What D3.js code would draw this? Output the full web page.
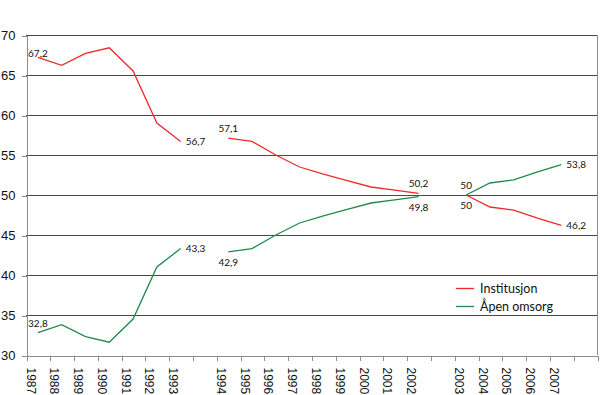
<!DOCTYPE html>
<html>
<head>
<meta charset="utf-8">
<script src="https://cdn.jsdelivr.net/npm/d3@7"></script>
<style>
    body { margin: 0; background: #fff; }
    svg { display: block; font-family: Lato, "Open Sans", sans-serif; }
    .grid line { stroke: #4a4a4a; shape-rendering: crispEdges; }
    .axis path, .axis line { stroke: #8c8c8c; shape-rendering: crispEdges; }
    .axis text { fill: #111; }
    .label { font-size: 10px; fill: #111; }
    .legend text { font-size: 12.5px; fill: #111; }
</style>
</head>
<body>
<div id="chart"></div>
<script>
// category slots along the x axis, "" = empty slot between periods
let categories = ["1987", "1988", "1989", "1990", "1991", "1992", "1993", "",
    "1994", "1995", "1996", "1997", "1998", "1999", "2000", "2001", "2002", "",
    "2003", "2004", "2005", "2006", "2007", ""];

let institusjon = [67.2, 66.2, 67.7, 68.4, 65.5, 59.0, 56.7, null,
    57.1, 56.7, 55.0, 53.5, 52.6, 51.8, 51.0, 50.6, 50.2, null,
    50.0, 48.5, 48.1, 47.1, 46.2, null];

let apenOmsorg = [32.8, 33.8, 32.3, 31.6, 34.5, 41.0, 43.3, null,
    42.9, 43.3, 45.0, 46.5, 47.4, 48.2, 49.0, 49.4, 49.8, null,
    50.0, 51.5, 51.9, 52.9, 53.8, null];

let seriesNames = ["Institusjon", "Åpen omsorg"];
let yTicks = [30, 35, 40, 45, 50, 55, 60, 65, 70];

// which points carry a value label, and where
let labelsInstitusjon = [[0, "center"], [6, "right"], [8, "above"], [16, "above"], [18, "below"], [22, "right"]];
let labelsApen = [[0, "above"], [6, "right"], [8, "below"], [16, "below"], [18, "above"], [22, "right"]];

const width = 600, height = 395;
const plot = { left: 26, right: 597, top: 35, bottom: 355 };
const colors = ["#ee2a2a", "#1e8a4b"];

const svg = d3.select("#chart").append("svg")
    .attr("width", width)
    .attr("height", height);

const x = d3.scaleLinear().domain([0, categories.length]).range([plot.left, plot.right]);
const y = d3.scaleLinear().domain([30, 70]).range([plot.bottom, plot.top]);

// gridlines
svg.append("g").attr("class", "grid")
    .selectAll("line")
    .data(yTicks.slice(1))
    .enter().append("line")
    .attr("x1", plot.left).attr("x2", plot.right)
    .attr("y1", d => Math.round(y(d)) + 0.5)
    .attr("y2", d => Math.round(y(d)) + 0.5);

// right border
svg.append("line")
    .attr("x1", plot.right + 0.5).attr("x2", plot.right + 0.5)
    .attr("y1", plot.top).attr("y2", plot.bottom)
    .attr("stroke", "#8c8c8c");

// y axis
let yAxis = svg.append("g").attr("class", "axis")
    .attr("transform", `translate(${plot.left + 0.5},0.5)`)
    .call(d3.axisLeft(y).tickValues(yTicks).tickSize(5).tickSizeOuter(0).tickPadding(6));
yAxis.selectAll("text").style("font-size", "13px").attr("x", -11);

// x axis, ticks on slot boundaries
let xAxis = svg.append("g").attr("class", "axis")
    .attr("transform", `translate(0.5,${plot.bottom + 0.5})`)
    .call(d3.axisBottom(x).tickValues(d3.range(categories.length + 1)).tickSize(5).tickSizeOuter(0)
        .tickFormat(i => categories[i] || ""));
xAxis.selectAll("text")
    .style("font-size", "12px")
    .attr("text-anchor", "start")
    .attr("transform", "translate(-0.5,12) rotate(90)")
    .attr("x", 0).attr("y", 0).attr("dy", 0);

// lines
const line = d3.line()
    .defined(d => d != null)
    .x((d, i) => x(i + 0.5))
    .y(d => y(d));

[institusjon, apenOmsorg].forEach((values, s) => {
    svg.append("path")
        .datum(values)
        .attr("fill", "none")
        .attr("stroke", colors[s])
        .attr("stroke-width", 1.3)
        .attr("d", line);
});

// value labels
const fmt = v => String(v).replace(".", ",");
const place = {
    above: { dx: 0, dy: -6, anchor: "middle" },
    below: { dx: 0, dy: 14, anchor: "middle" },
    center: { dx: 0, dy: 0, anchor: "middle" },
    right: { dx: 5, dy: 3.5, anchor: "start" }
};

[[institusjon, labelsInstitusjon], [apenOmsorg, labelsApen]].forEach(([values, specs]) => {
    svg.selectAll(null)
        .data(specs)
        .enter().append("text")
        .attr("class", "label")
        .attr("x", d => x(d[0] + 0.5) + place[d[1]].dx)
        .attr("y", d => y(values[d[0]]) + place[d[1]].dy)
        .attr("text-anchor", d => place[d[1]].anchor)
        .text(d => fmt(values[d[0]]));
});

// legend
let legend = svg.append("g").attr("class", "legend")
    .attr("transform", "translate(456,288.5)");

let items = legend.selectAll("g")
    .data(seriesNames)
    .enter().append("g")
    .attr("transform", (d, i) => `translate(0,${i * 18})`);

items.append("line")
    .attr("x1", 0).attr("x2", 18)
    .attr("stroke", (d, i) => colors[i])
    .attr("stroke-width", 1.3);

items.append("text")
    .attr("x", 24)
    .attr("dy", "0.35em")
    .text(d => d);
</script>
</body>
</html>
